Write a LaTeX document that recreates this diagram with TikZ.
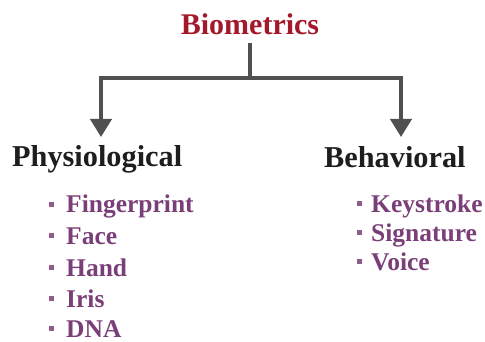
\documentclass[tikz,border=0pt]{standalone}
\usepackage{fontspec}
\setmainfont{Liberation Serif}
\usetikzlibrary{arrows.meta}
\definecolor{bioRed}{HTML}{A3182B}
\definecolor{itemPurple}{HTML}{7A3F78}
\definecolor{lineGray}{HTML}{505050}
\definecolor{headBlack}{HTML}{1E1E1E}
\tikzset{
  title/.style={text=bioRed, font=\bfseries\fontsize{30}{34}\selectfont, inner sep=0pt},
  head/.style={text=headBlack, font=\bfseries\fontsize{30.3}{34}\selectfont, inner sep=0pt, anchor=base west},
  item/.style={text=itemPurple, font=\bfseries\fontsize{25.5}{28}\selectfont, inner sep=0pt, anchor=base west},
  bul/.style={fill=itemPurple!85, minimum size=5pt, inner sep=0pt},
  conn/.style={draw=lineGray, line width=4pt},
  arr/.style={conn, -{Triangle[width=21pt,length=18pt]}}
}
\begin{document}
\begin{tikzpicture}[x=1pt,y=-1pt]
\useasboundingbox (0,0) rectangle (485,342);
\node[title, anchor=base] (bio) at (250,35) {Biometrics};
\coordinate (j) at (250,78);
\coordinate (jl) at (101,78);
\coordinate (jr) at (401,78);
\coordinate (tl) at (101,137);
\coordinate (tr) at (401,137);
\draw[conn] (250,43) -- (j);
\draw[conn, line cap=rect] (jl) -- (jr);
\draw[arr] (jl) -- (tl);
\draw[arr] (jr) -- (tr);
\node[head] (phys) at (12,167) {Physiological};
\node[head] (behav) at (324,168) {Behavioral};
\foreach \t/\y [count=\i] in {Fingerprint/213,Face/244,Hand/276,Iris/307,DNA/337}{
  \node[item] (l\i) at (66,\y) {\t};
  \node[bul] (lb\i) at (51,\y-8.5) {};
}
\foreach \t/\y [count=\i] in {Keystroke/212,Signature/241,Voice/270}{
  \node[item] (r\i) at (371,\y) {\t};
  \node[bul] (rb\i) at (359,\y-8.5) {};
}
\end{tikzpicture}
\end{document}
